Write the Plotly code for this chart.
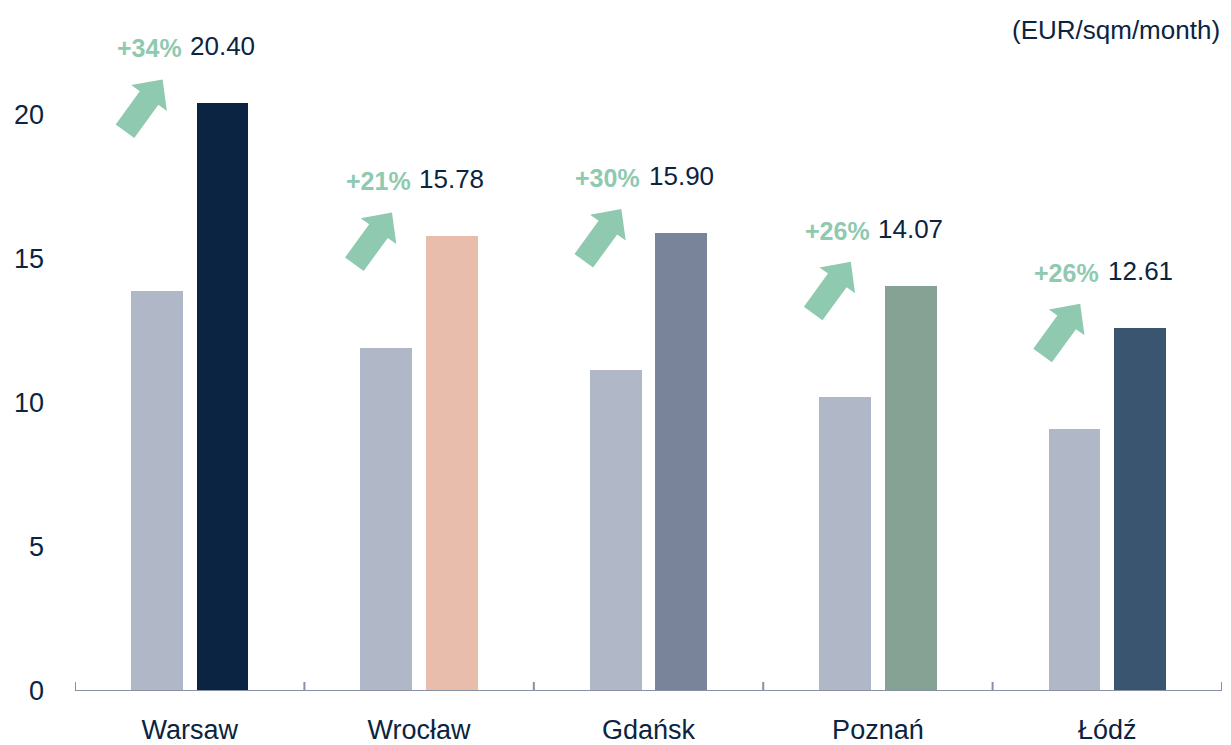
import math
import plotly.graph_objects as go

# Office rents by city, previous level vs current level
cities = ["Warsaw", "Wrocław", "Gdańsk", "Poznań", "Łódź"]
previous_rent = [13.9, 11.9, 11.15, 10.2, 9.1]
current_rent = [20.40, 15.78, 15.90, 14.07, 12.61]
growth_labels = ["+34%", "+21%", "+30%", "+26%", "+26%"]
y_ticks = [0, 5, 10, 15, 20]

current_colors = ["#0b2441", "#e9bdac", "#798399", "#85a295", "#3a556f"]
previous_color = "#b0b7c6"
navy = "#0b2441"
green = "#8ec9b0"
axis_grey = "#8a90a3"
FONT = "Arial Narrow, Liberation Sans Narrow, Liberation Sans, Arial, sans-serif"

BAR_W = 0.226
OFFSET = 0.143

idx = list(range(len(cities)))
x_prev = [i - OFFSET for i in idx]
x_curr = [i + OFFSET for i in idx]

fig = go.Figure()
fig.add_trace(go.Bar(x=x_prev, y=previous_rent, width=BAR_W,
                     marker=dict(color=previous_color, line=dict(width=0)),
                     hoverinfo="skip", showlegend=False))
fig.add_trace(go.Bar(x=x_curr, y=current_rent, width=BAR_W,
                     marker=dict(color=current_colors, line=dict(width=0)),
                     hoverinfo="skip", showlegend=False))


def arrow_path(tip_dx, tip_dy, angle_deg=54, length=64, head_len=23,
               head_half=22, shaft_half=11.5):
    """Block arrow polygon in pixel offsets (y up), tip at (tip_dx, tip_dy)."""
    a = math.radians(angle_deg)
    ux, uy = math.cos(a), math.sin(a)
    nx, ny = -uy, ux
    tx, ty = tip_dx, tip_dy
    bx, by = tx - ux * head_len, ty - uy * head_len        # head base centre
    sx, sy = tx - ux * length, ty - uy * length            # tail centre
    pts = [
        (tx, ty),
        (bx + nx * head_half, by + ny * head_half),
        (bx + nx * shaft_half, by + ny * shaft_half),
        (sx + nx * shaft_half, sy + ny * shaft_half),
        (sx - nx * shaft_half, sy - ny * shaft_half),
        (bx - nx * shaft_half, by - ny * shaft_half),
        (bx - nx * head_half, by - ny * head_half),
    ]
    return "M " + " L ".join(f"{px:.1f},{py:.1f}" for px, py in pts) + " Z"


shapes = []
annotations = []
for i, (val, pct) in enumerate(zip(current_rent, growth_labels)):
    bar_left = x_curr[i] - BAR_W / 2
    shapes.append(dict(type="path", xref="x", yref="y",
                       xsizemode="pixel", ysizemode="pixel",
                       xanchor=bar_left, yanchor=val,
                       path=arrow_path(-34, 24),
                       fillcolor=green, line=dict(width=0), layer="above"))
    annotations.append(dict(x=x_curr[i], y=val, xref="x", yref="y",
                            text=f"{val:.2f}", showarrow=False,
                            xanchor="center", yanchor="middle", yshift=57,
                            font=dict(family=FONT, size=26, color=navy)))
    annotations.append(dict(x=bar_left, y=val, xref="x", yref="y",
                            text=f"<b>{pct}</b>", showarrow=False,
                            xanchor="right", yanchor="middle",
                            xshift=-13, yshift=55,
                            font=dict(family=FONT, size=25, color=green)))

# x axis baseline with crossing ticks at category boundaries
shapes.append(dict(type="line", xref="x", yref="y", x0=-0.5, x1=len(cities) - 0.5,
                   y0=0, y1=0, line=dict(color=axis_grey, width=2), layer="above"))
for b in [i - 0.5 for i in range(len(cities) + 1)]:
    shapes.append(dict(type="line", xref="x", yref="y",
                       ysizemode="pixel", yanchor=0, x0=b, x1=b, y0=-10, y1=9,
                       line=dict(color=axis_grey, width=2), layer="above"))

annotations.append(dict(x=1, y=1, xref="paper", yref="paper",
                        text="(EUR/sqm/month)", showarrow=False,
                        xanchor="right", yanchor="middle", yshift=-30,
                        font=dict(family=FONT, size=26, color=navy)))

fig.update_layout(
    width=1231, height=745,
    margin=dict(l=75, r=9, t=0, b=54),
    paper_bgcolor="white", plot_bgcolor="white",
    font=dict(family=FONT, size=27, color=navy),
    shapes=shapes, annotations=annotations,
    bargap=0,
    xaxis=dict(range=[-0.5, len(cities) - 0.5], tickvals=idx, ticktext=cities,
               showgrid=False, zeroline=False, showline=False, ticks="",
               ticklabelstandoff=20,
               tickfont=dict(family=FONT, size=27, color=navy)),
    yaxis=dict(range=[0, 23.99], tickvals=y_ticks, showgrid=False,
               zeroline=False, showline=False, ticks="", ticklabelstandoff=30,
               tickfont=dict(family=FONT, size=27, color=navy)),
)

fig.write_html("out.html")
